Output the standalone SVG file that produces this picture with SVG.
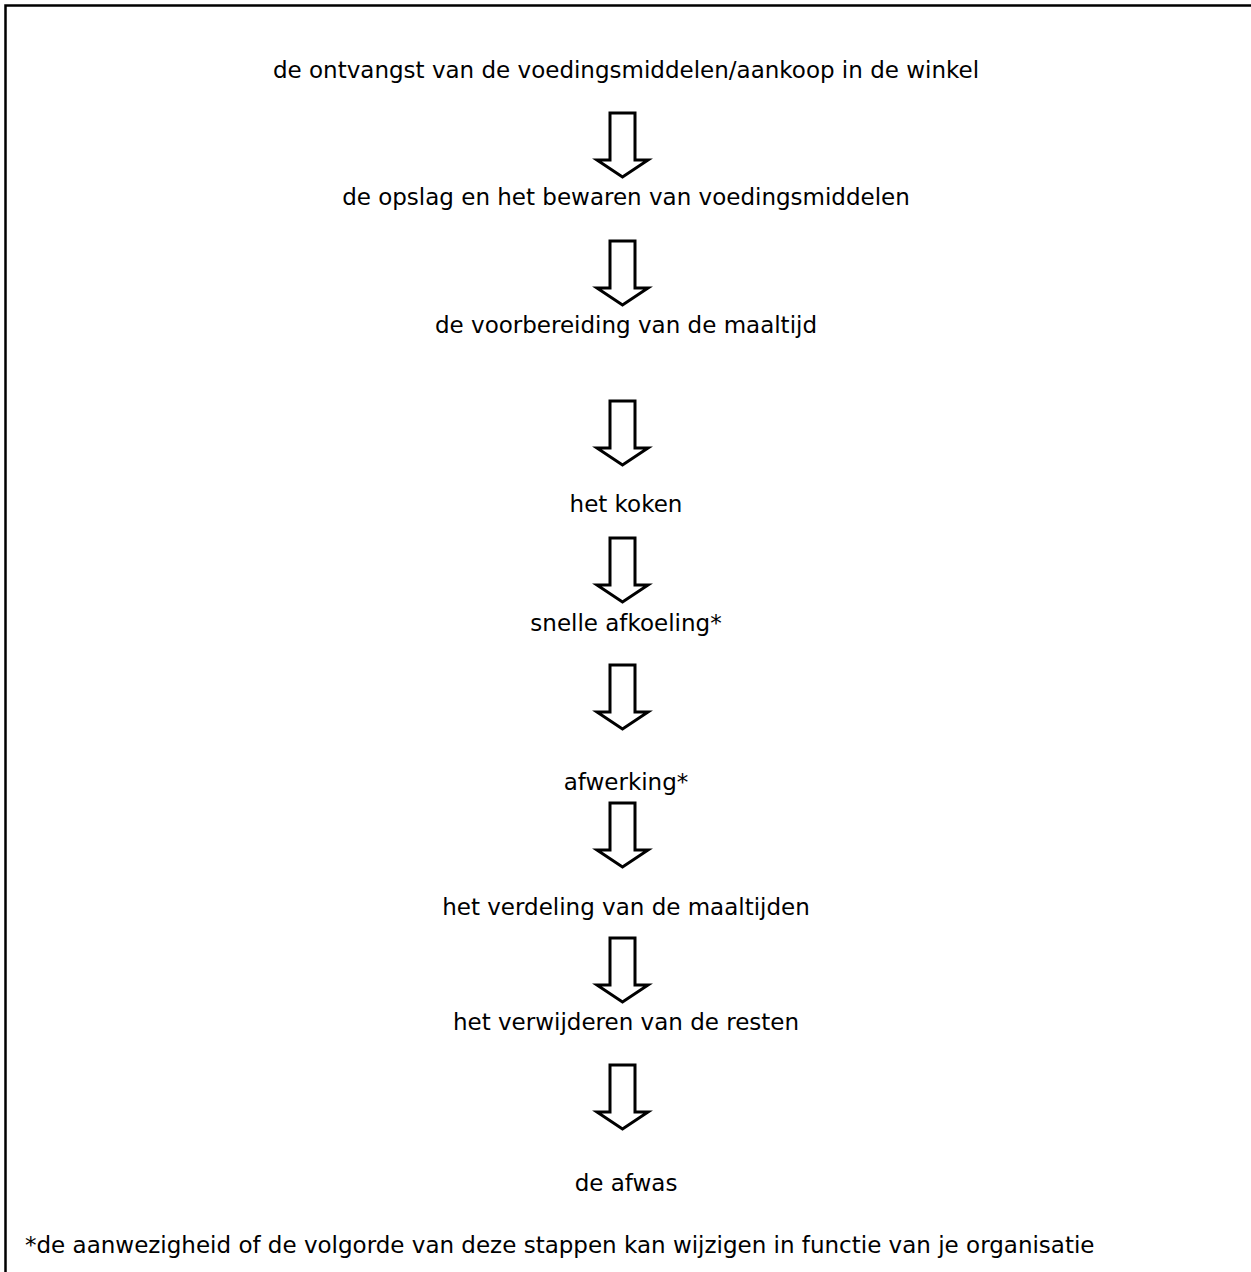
<svg xmlns="http://www.w3.org/2000/svg" width="1251" height="1272" viewBox="0 0 1251 1272">
<style>
.t{font-family:"DejaVu Sans",Verdana,sans-serif;font-size:23px;fill:#000;text-anchor:middle}
.f{font-family:"DejaVu Sans",Verdana,sans-serif;font-size:23px;fill:#000}
.a{fill:#fff;stroke:#000;stroke-width:3;stroke-linejoin:miter}
</style>
<defs>
<path id="arr" class="a" d="M610,0 H635 V47 H648 L622.5,64 L597,47 H610 Z"/>
</defs>
<rect width="1251" height="1272" fill="#fff"/>
<path d="M5.5,1272 V5.5 H1251" fill="none" stroke="#000" stroke-width="2.5"/>
<g id="n1"><text class="t" x="626" y="78">de ontvangst van de voedingsmiddelen/aankoop in de winkel</text></g>
<g id="n2"><text class="t" x="626" y="205">de opslag en het bewaren van voedingsmiddelen</text></g>
<g id="n3"><text class="t" x="626" y="333">de voorbereiding van de maaltijd</text></g>
<g id="n4"><text class="t" x="626" y="512">het koken</text></g>
<g id="n5"><text class="t" x="626" y="631">snelle afkoeling*</text></g>
<g id="n6"><text class="t" x="626" y="790">afwerking*</text></g>
<g id="n7"><text class="t" x="626" y="915">het verdeling van de maaltijden</text></g>
<g id="n8"><text class="t" x="626" y="1030">het verwijderen van de resten</text></g>
<g id="n9"><text class="t" x="626" y="1191">de afwas</text></g>
<g id="note"><text class="f" x="25" y="1253">*de aanwezigheid of de volgorde van deze stappen kan wijzigen in functie van je organisatie</text></g>
<g id="connectors">
<use href="#arr" y="113"/>
<use href="#arr" y="241"/>
<use href="#arr" y="401"/>
<use href="#arr" y="538"/>
<use href="#arr" y="665"/>
<use href="#arr" y="803"/>
<use href="#arr" y="938"/>
<use href="#arr" y="1065"/>
</g>
</svg>
